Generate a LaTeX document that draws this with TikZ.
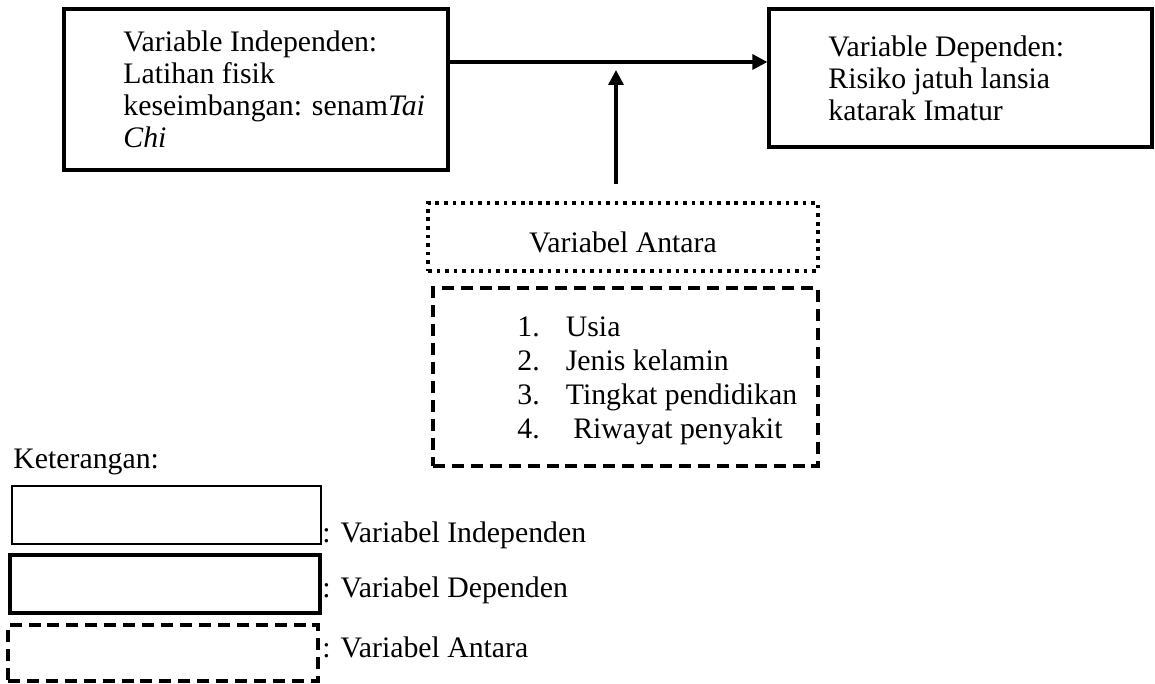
\documentclass[tikz,border=0pt]{standalone}
\usepackage{fontspec}
\setmainfont{Liberation Serif}
\usepackage{tikz}
\usetikzlibrary{arrows.meta,positioning,fit}
\tikzstyle{varbox}=[draw,line width=1.4pt,inner sep=0pt,rectangle]
\tikzstyle{antarabox}=[draw,line width=1.4pt,inner sep=0pt,rectangle,dash pattern=on 5.2pt off 3pt]
\tikzstyle{dotbox}=[draw,line width=1.4pt,inner sep=0pt,rectangle,dash pattern=on 1.6pt off 2.1pt]
\tikzstyle{txt}=[inner sep=0pt,align=left,font=\fontsize{12.9pt}{13.9pt}\selectfont]
\tikzstyle{arr}=[line width=1.4pt,-{Triangle[length=6.5pt,width=6.5pt]}]

\begin{document}
\begin{tikzpicture}[x=0.4333pt,y=-0.4333pt]
\useasboundingbox (0,0) rectangle (1155,684);
% variabel independen
\node [varbox,fit={(64,9) (448,170)}] (iv) {};
\node [txt,anchor=west] (ivtext) at (123,89)
	{Variable Independen:\\Latihan fisik\\keseimbangan: senam\textit{Tai}\\\textit{Chi}};
% variabel dependen
\node [varbox,fit={(769,9) (1152,147)}] (dv) {};
\node [txt,anchor=west] (dvtext) at (828,78)
	{Variable Dependen:\\Risiko jatuh lansia\\katarak Imatur};
% panah
\coordinate (link) at (616,62);
\coordinate (modtip) at (616,70);
\coordinate (modbase) at (616,184);
\draw [arr] (iv.east |- link) -- (dv.west |- link);
\draw [arr] (modbase) -- (modtip);
% variabel antara
\node [dotbox,fit={(428,203) (818,271)}] (antara) {};
\node [txt] (antaratext) at (623,242) {Variabel Antara};
\node [antarabox,fit={(433,288) (818,466)}] (list) {};
\node [txt,anchor=west,font=\fontsize{12.9pt}{14.7pt}\selectfont] (listtext) at (517,381)
	{\makebox[21pt][l]{1.}Usia\\\makebox[21pt][l]{2.}Jenis kelamin\\
	 \makebox[21pt][l]{3.}Tingkat pendidikan\\\makebox[21pt][l]{4.} Riwayat penyakit};
% keterangan
\node [txt,anchor=west] (ket) at (13,462) {Keterangan:};
\node [varbox,line width=1.2pt,fit={(12,486) (321,544)}] (leg1) {};
\node [txt,anchor=west] (leg1text) at (322,535) {: Variabel Independen};
\node [varbox,line width=1.6pt,fit={(10,555) (320,613)}] (leg2) {};
\node [txt,anchor=west] (leg2text) at (322,590) {: Variabel Dependen};
\node [antarabox,fit={(8,625) (318,681)}] (leg3) {};
\node [txt,anchor=west] (leg3text) at (322,647) {: Variabel Antara};
\end{tikzpicture}
\end{document}
